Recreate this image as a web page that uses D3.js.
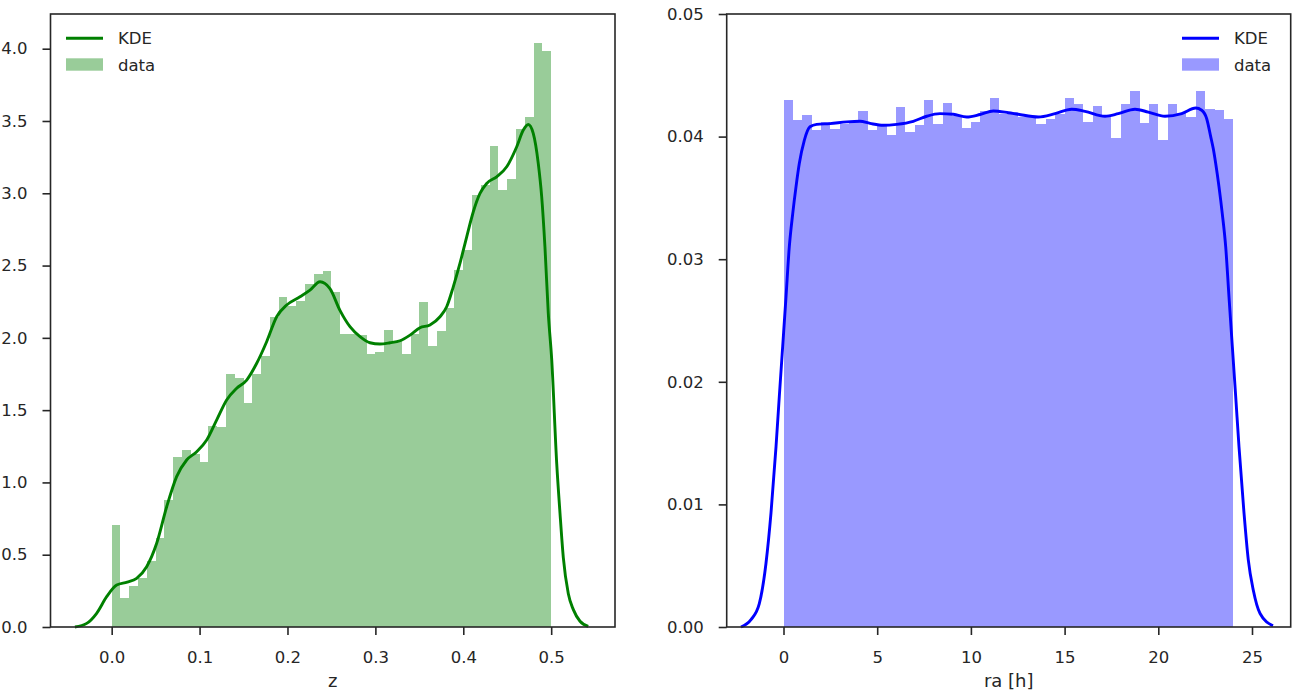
<!DOCTYPE html>
<html>
<head>
<meta charset="utf-8">
<script src="https://cdn.jsdelivr.net/npm/d3@7"></script>
<style>
    body { margin: 0; background: #ffffff; }
    svg text { font-family: "DejaVu Sans", sans-serif; fill: #262626; }
</style>
</head>
<body>
<svg id="chart" width="1295" height="692"></svg>
<script>

// ---- left panel: redshift z ----
const zBinEdges = [0.00, 0.01, 0.02, 0.03, 0.04, 0.05, 0.06, 0.07, 0.08, 0.09,
    0.10, 0.11, 0.12, 0.13, 0.14, 0.15, 0.16, 0.17, 0.18, 0.19,
    0.20, 0.21, 0.22, 0.23, 0.24, 0.25, 0.26, 0.27, 0.28, 0.29,
    0.30, 0.31, 0.32, 0.33, 0.34, 0.35, 0.36, 0.37, 0.38, 0.39,
    0.40, 0.41, 0.42, 0.43, 0.44, 0.45, 0.46, 0.47, 0.48, 0.49, 0.50];

const zDensity = [0.705, 0.203, 0.286, 0.341, 0.456, 0.618, 0.878, 1.176, 1.224, 1.20,
    1.143, 1.39, 1.38, 1.747, 1.72, 1.547, 1.75, 1.874, 2.144, 2.282,
    2.222, 2.254, 2.37, 2.44, 2.462, 2.315, 2.028, 2.028, 2.017, 1.89,
    1.904, 2.054, 1.98, 1.886, 2.03, 2.247, 1.946, 2.047, 2.208, 2.469,
    2.607, 2.988, 3.06, 3.326, 3.022, 3.098, 3.444, 3.527, 4.039, 3.983];

const zKdeX = [-0.0418, -0.0284, -0.0171, -0.0057, 0.0057, 0.0177, 0.0284, 0.0398, 0.0512, 0.0626,
    0.0739, 0.0853, 0.0967, 0.1081, 0.1195, 0.1308, 0.1422, 0.1536, 0.165, 0.1763,
    0.1877, 0.1991, 0.2142, 0.2256, 0.237, 0.2483, 0.2597, 0.2711, 0.2825, 0.2938,
    0.3052, 0.3166, 0.328, 0.3394, 0.3507, 0.3621, 0.3735, 0.3811, 0.3886, 0.3962,
    0.4039, 0.4114, 0.419, 0.4266, 0.438, 0.4494, 0.4608, 0.4683, 0.474, 0.4796,
    0.4853, 0.4892, 0.4929, 0.4967, 0.5006, 0.5063, 0.51, 0.5138, 0.5195, 0.5252,
    0.5328, 0.5422];

const zKdeY = [0, 0.025, 0.095, 0.21, 0.29, 0.31, 0.337, 0.417, 0.579, 0.832,
    1.04, 1.155, 1.212, 1.293, 1.432, 1.57, 1.651, 1.708, 1.824, 1.973,
    2.146, 2.227, 2.284, 2.33, 2.388, 2.34, 2.19, 2.077, 2.008, 1.966,
    1.957, 1.966, 1.98, 2.019, 2.07, 2.089, 2.146, 2.215, 2.353, 2.515,
    2.699, 2.872, 2.999, 3.068, 3.114, 3.183, 3.322, 3.437, 3.476, 3.414,
    3.207, 2.976, 2.63, 2.17, 1.85, 1.13, 0.79, 0.48, 0.23, 0.12,
    0.04, 0.005];

const zTicksX = [0.0, 0.1, 0.2, 0.3, 0.4, 0.5];
const zTicksY = [0.0, 0.5, 1.0, 1.5, 2.0, 2.5, 3.0, 3.5, 4.0];

// ---- right panel: right ascension ----
const raBinEdges = [0, 0.5, 1, 1.5, 2, 2.5, 3, 3.5, 4, 4.5, 5, 5.5, 6, 6.5, 7, 7.5,
    8, 8.5, 9, 9.5, 10, 10.5, 11, 11.5, 12, 12.5, 13, 13.5, 14, 14.5, 15, 15.5,
    16, 16.5, 17, 17.5, 18, 18.5, 19, 19.5, 20, 20.5, 21, 21.5, 22, 22.5, 23, 23.5, 24];

const raDensity = [0.04299, 0.04135, 0.04176, 0.04051, 0.04119, 0.04065, 0.0410, 0.0412,
    0.04209, 0.04057, 0.0409, 0.0401, 0.04241, 0.04037, 0.04092, 0.04299,
    0.04103, 0.04274, 0.0417, 0.04073, 0.04119, 0.04206, 0.04318, 0.04187,
    0.0420, 0.0416, 0.0416, 0.04105, 0.04146, 0.04187, 0.04318, 0.04266,
    0.04119, 0.0425, 0.0417, 0.03989, 0.04266, 0.04372, 0.04113, 0.04266,
    0.03975, 0.04266, 0.0419, 0.0416, 0.04372, 0.04228, 0.04217, 0.04144];

const raKdeX = [-2.268, -1.734, -1.291, -0.934, -0.667, -0.400, -0.224, -0.043, 0.133, 0.309,
    0.491, 0.667, 0.843, 1.110, 1.414, 1.772, 2.481, 3.372, 4.082, 4.616,
    5.325, 6.041, 6.926, 7.641, 8.351, 9.061, 9.776, 10.486, 11.195, 11.996,
    12.529, 13.596, 14.488, 15.379, 16.089, 17.156, 17.866, 18.757, 19.466, 20.357,
    21.249, 21.996, 22.316, 22.583, 22.796, 22.935, 23.063, 23.239, 23.415, 23.597,
    23.773, 23.949, 24.13, 24.306, 24.573, 24.8, 25.07, 25.43, 26.12];

const raKdeY = [0, 0.0006, 0.0019, 0.0052, 0.0093, 0.0147, 0.0188, 0.0229, 0.0269, 0.031,
    0.0337, 0.0359, 0.0378, 0.0397, 0.0408, 0.0410, 0.04106, 0.0412, 0.04125, 0.04108,
    0.04092, 0.0410, 0.04125, 0.04166, 0.04187, 0.04182, 0.0416, 0.0418, 0.04209, 0.04195,
    0.04182, 0.0416, 0.04187, 0.04223, 0.04206, 0.04166, 0.04187, 0.04223, 0.042, 0.04166,
    0.04187, 0.04233, 0.04215, 0.04146, 0.0400, 0.0390, 0.0378, 0.0359, 0.0337, 0.031,
    0.0269, 0.0229, 0.0188, 0.0147, 0.0093, 0.0055, 0.003, 0.0011, 0.0001];

const raTicksX = [0, 5, 10, 15, 20, 25];
const raTicksY = [0.00, 0.01, 0.02, 0.03, 0.04, 0.05];

const legendLabels = ["KDE", "data"];

const svg = d3.select("#chart");

/** One histogram + KDE panel with its own axes and legend. */
class DensityPanel {
    /**
     * @param cfg box in pixels, domains, data arrays, ticks, colour, labels
     */
    constructor(cfg) {
        Object.assign(this, cfg);
        this.x = d3.scaleLinear().domain(this.xDomain).range([this.left, this.right]);
        this.y = d3.scaleLinear().domain(this.yDomain).range([this.bottom, this.top]);
        this.g = svg.append("g");
    }

    /** Draws bars, curve, axes, frame and legend */
    draw() {
        let self = this;
        let x = self.x, y = self.y;

        let bins = self.density.map((v, i) => ({x0: self.edges[i], x1: self.edges[i + 1], v: v}));

        self.g.append("g").selectAll("rect")
            .data(bins).enter().append("rect")
            .attr("x", d => x(d.x0))
            .attr("width", d => x(d.x1) - x(d.x0))
            .attr("y", d => y(d.v))
            .attr("height", d => y(0) - y(d.v))
            .attr("fill", self.color)
            .attr("fill-opacity", 0.4)
            .attr("shape-rendering", "crispEdges");

        let pts = self.kdeX.map((v, i) => [v, self.kdeY[i]]);
        let line = d3.line()
            .x(d => x(d[0]))
            .y(d => y(d[1]))
            .curve(d3.curveMonotoneX);

        self.g.append("path").datum(pts)
            .attr("d", line)
            .attr("fill", "none")
            .attr("stroke", self.color)
            .attr("stroke-width", 2.9)
            .attr("stroke-linejoin", "round");

        // x axis
        self.g.append("g")
            .attr("transform", `translate(0,${self.bottom})`)
            .call(d3.axisBottom(x).tickValues(self.xTicks).tickFormat(self.xFormat)
                .tickSize(8).tickPadding(16).tickSizeOuter(0))
            .call(a => self.styleAxis(a));

        // y axis
        self.g.append("g")
            .attr("transform", `translate(${self.left},0)`)
            .call(d3.axisLeft(y).tickValues(self.yTicks).tickFormat(self.yFormat)
                .tickSize(8).tickPadding(15).tickSizeOuter(0))
            .call(a => self.styleAxis(a));

        // frame (all four spines)
        self.g.append("rect")
            .attr("x", self.left).attr("y", self.top)
            .attr("width", self.right - self.left)
            .attr("height", self.bottom - self.top)
            .attr("fill", "none")
            .attr("stroke", "#262626")
            .attr("stroke-width", 1.6);

        self.g.append("text")
            .attr("x", (self.left + self.right) / 2)
            .attr("y", 687)
            .attr("text-anchor", "middle")
            .attr("font-size", 18)
            .text(self.xLabel);

        self.drawLegend();
    }

    styleAxis(a) {
        a.select(".domain").remove();
        a.attr("font-family", "DejaVu Sans").attr("font-size", 16.5).attr("color", "#262626");
        a.selectAll(".tick line").attr("stroke-width", 1.6);
    }

    drawLegend() {
        let lx = this.legendX;
        let lg = this.g.append("g");

        lg.append("line")
            .attr("x1", lx).attr("x2", lx + 37)
            .attr("y1", 38.3).attr("y2", 38.3)
            .attr("stroke", this.color)
            .attr("stroke-width", 2.9);

        lg.append("rect")
            .attr("x", lx).attr("y", 58.3)
            .attr("width", 37).attr("height", 12.4)
            .attr("fill", this.color)
            .attr("fill-opacity", 0.4);

        lg.selectAll("text")
            .data(legendLabels).enter().append("text")
            .attr("x", lx + 52)
            .attr("y", (d, i) => i === 0 ? 44.3 : 70.5)
            .attr("font-size", 16.5)
            .text(d => d);
    }
}

new DensityPanel({
    left: 50.5, right: 615, top: 14, bottom: 627,
    xDomain: [-0.0696, 0.5726], yDomain: [0, 4.24],
    edges: zBinEdges, density: zDensity, kdeX: zKdeX, kdeY: zKdeY,
    xTicks: zTicksX, yTicks: zTicksY,
    xFormat: d3.format(".1f"), yFormat: d3.format(".1f"),
    color: "green", xLabel: "z", legendX: 66
}).draw();

new DensityPanel({
    left: 726.7, right: 1290.7, top: 14, bottom: 627,
    xDomain: [-3.031, 27.065], yDomain: [0, 0.05],
    edges: raBinEdges, density: raDensity, kdeX: raKdeX, kdeY: raKdeY,
    xTicks: raTicksX, yTicks: raTicksY,
    xFormat: d3.format("d"), yFormat: d3.format(".2f"),
    color: "blue", xLabel: "ra [h]", legendX: 1182
}).draw();

</script>
</body>
</html>
